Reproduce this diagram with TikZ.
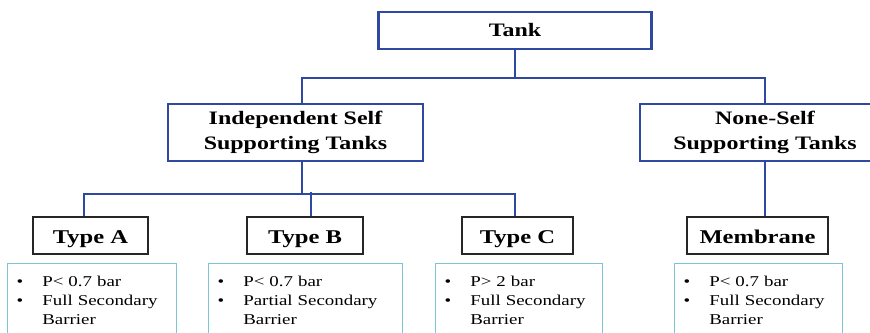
\documentclass[tikz,border=0pt]{standalone}
\usepackage{fontspec}
\setmainfont{Liberation Serif}[FakeStretch=1.26]
\usetikzlibrary{positioning}
\definecolor{tankblue}{RGB}{47,72,160}
\definecolor{infocyan}{RGB}{125,196,214}
\tikzset{
  bluebox/.style={draw=tankblue, line width=2.4pt, inner sep=0pt, align=center,
    font=\fontsize{19}{25}\selectfont\bfseries},
  typebox/.style={draw=black!85, line width=1.5pt, inner sep=0pt,
    minimum height=37, text height=15pt, text depth=0pt,
    font=\fontsize{19.5}{25}\selectfont\bfseries},
  infobox/.style={draw=infocyan, line width=1.4pt, anchor=north west,
    inner xsep=9pt, inner ysep=0pt, align=left, minimum height=75,
    font=\fontsize{15}{19}\selectfont},
  link/.style={draw=tankblue, line width=2.4pt}
}
\newcommand{\infolist}[3]{%
  \begin{tabular}{@{}l@{\hspace{19pt}}l@{}}
  \textbullet & #1\\ \textbullet & #2\\ & #3
  \end{tabular}}
\begin{document}
\begin{tikzpicture}[x=1pt, y=-1pt]
    \useasboundingbox (0,0) rectangle (870,332);
    \clip (0,0) rectangle (870,332);

    % Tank classes
    \node[bluebox, minimum width=273, minimum height=37] (tank) at (515,30.5) {Tank};
    \node[bluebox, minimum width=255, minimum height=57] (indep) at (295.5,132.5)
        {Independent Self\\Supporting Tanks};
    \node[bluebox, minimum width=250, minimum height=57] (nstank) at (765,132.5)
        {None-Self\\Supporting Tanks};

    % Types
    \node[typebox, minimum width=115] (typeA) at (90.5,235.5) {Type A};
    \node[typebox, minimum width=116] (typeB) at (305,235.5) {Type B};
    \node[typebox, minimum width=111] (typeC) at (517.5,235.5) {Type C};
    \node[typebox, minimum width=141] (memb) at (757.5,235.5) {Membrane};

    % Properties
    \node[infobox, text width=151] (infoA) at (7,263)
        {\infolist{P< 0.7 bar}{Full Secondary}{Barrier}};
    \node[infobox, text width=176] (infoB) at (208,263)
        {\infolist{P< 0.7 bar}{Partial Secondary}{Barrier}};
    \node[infobox, text width=149] (infoC) at (435,263)
        {\infolist{P> 2 bar}{Full Secondary}{Barrier}};
    \node[infobox, text width=150] (infoM) at (674,263)
        {\infolist{P< 0.7 bar}{Full Secondary}{Barrier}};

    % Connectors
    \draw[link] (tank.south) -- ++(0,28) coordinate (tj);
    \draw[link] ([xshift=6.5]indep.north) |- (tj) -| (nstank.north);
    \draw[link] ([xshift=6.5]indep.south) -- ++(0,32) coordinate (ij);
    \draw[link] ([xshift=-6.5]typeA.north) |- (ij) -| ([xshift=-2.5]typeC.north);
    \draw[link] ([xshift=6]typeB.north) -- ++(0,-24);
    \draw[link] ([xshift=7.5]memb.north) |- (nstank.south);
\end{tikzpicture}
\end{document}
